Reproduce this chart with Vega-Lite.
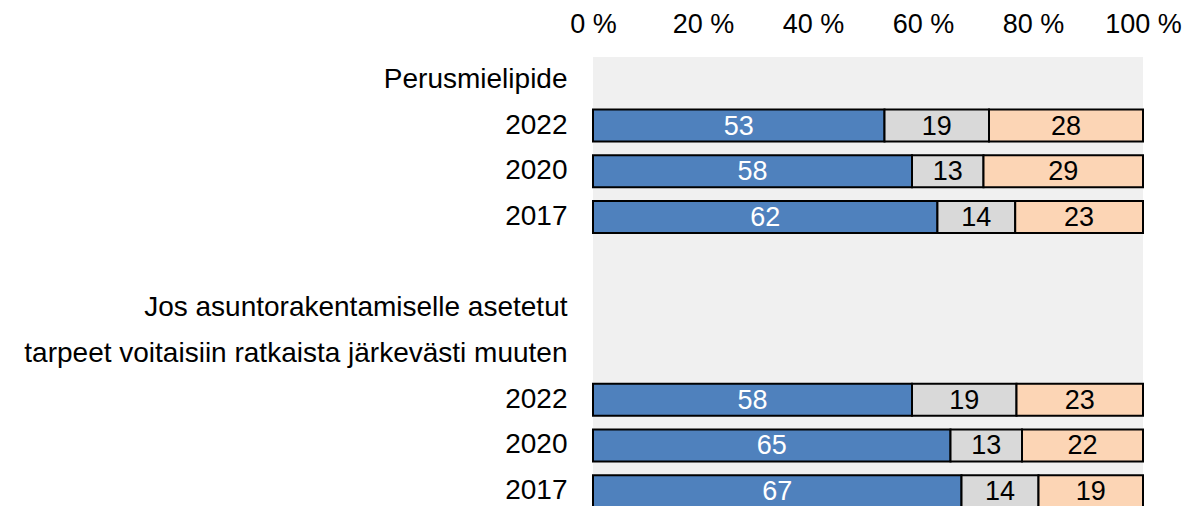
{
  "$schema": "https://vega.github.io/schema/vega-lite/v6.json",
  "width": 550,
  "height": 449,
  "autosize": {"type": "none"},
  "padding": {"left": 593, "top": 57, "right": 45, "bottom": 0},
  "background": "white",
  "config": {
    "view": {"fill": "#f0f0f0", "stroke": null},
    "font": "Liberation Sans"
  },
  "data": {
    "values": [
      {"row": 1, "cat": "a", "order": 1, "value": 53},
      {"row": 1, "cat": "b", "order": 2, "value": 19},
      {"row": 1, "cat": "c", "order": 3, "value": 28},
      {"row": 2, "cat": "a", "order": 1, "value": 58},
      {"row": 2, "cat": "b", "order": 2, "value": 13},
      {"row": 2, "cat": "c", "order": 3, "value": 29},
      {"row": 3, "cat": "a", "order": 1, "value": 62},
      {"row": 3, "cat": "b", "order": 2, "value": 14},
      {"row": 3, "cat": "c", "order": 3, "value": 23},
      {"row": 7, "cat": "a", "order": 1, "value": 58},
      {"row": 7, "cat": "b", "order": 2, "value": 19},
      {"row": 7, "cat": "c", "order": 3, "value": 23},
      {"row": 8, "cat": "a", "order": 1, "value": 65},
      {"row": 8, "cat": "b", "order": 2, "value": 13},
      {"row": 8, "cat": "c", "order": 3, "value": 22},
      {"row": 9, "cat": "a", "order": 1, "value": 67},
      {"row": 9, "cat": "b", "order": 2, "value": 14},
      {"row": 9, "cat": "c", "order": 3, "value": 19}
    ]
  },
  "transform": [
    {"stack": "value", "groupby": ["row"], "sort": [{"field": "order"}], "offset": "normalize", "as": ["x0", "x1"]},
    {"calculate": "(datum.x0 + datum.x1) / 2", "as": "xm"}
  ],
  "encoding": {
    "y": {
      "field": "row",
      "type": "ordinal",
      "scale": {"domain": [0, 1, 2, 3, 4, 5, 6, 7, 8, 9], "range": [0, 457], "paddingInner": 0.3, "paddingOuter": 0.15},
      "axis": {
        "title": null,
        "domain": false,
        "ticks": false,
        "labelPadding": 26,
        "labelFontSize": 28,
        "labelColor": "black",
        "labelFont": "Liberation Sans",
        "labelLimit": 800,
        "labelExpr": "['Perusmielipide','2022','2020','2017','','Jos asuntorakentamiselle asetetut','tarpeet voitaisiin ratkaista järkevästi muuten','2022','2020','2017'][datum.value]"
      }
    }
  },
  "layer": [
    {
      "mark": {"type": "bar", "stroke": "black", "strokeWidth": 2},
      "encoding": {
        "x": {
          "field": "x0",
          "type": "quantitative",
          "scale": {"domain": [0, 1], "nice": false},
          "axis": {
            "orient": "top",
            "title": null,
            "domain": false,
            "ticks": false,
            "grid": false,
            "values": [0, 0.2, 0.4, 0.6, 0.8, 1],
            "labelExpr": "round(datum.value * 100) + ' %'",
            "labelFontSize": 27,
            "labelColor": "black",
            "labelFont": "Liberation Sans",
            "labelPadding": 19,
            "labelFlush": false
          }
        },
        "x2": {"field": "x1"},
        "color": {
          "field": "cat",
          "type": "nominal",
          "scale": {"domain": ["a", "b", "c"], "range": ["#4f81bd", "#d9d9d9", "#fcd5b5"]},
          "legend": null
        }
      }
    },
    {
      "mark": {"type": "text", "fontSize": 27, "font": "Liberation Sans", "baseline": "middle", "align": "center", "dy": 1},
      "encoding": {
        "x": {"field": "xm", "type": "quantitative"},
        "text": {"field": "value", "type": "quantitative"},
        "color": {"condition": {"test": "datum.cat === 'a'", "value": "white"}, "value": "black"}
      }
    }
  ]
}
